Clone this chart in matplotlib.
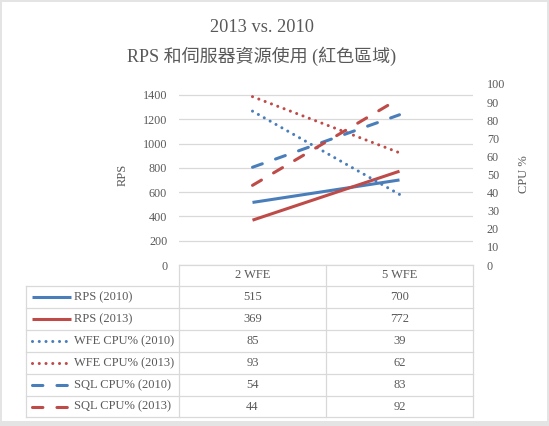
import matplotlib
matplotlib.use("Agg")
import matplotlib.pyplot as plt
from matplotlib.patches import Rectangle
from matplotlib.lines import Line2D

plt.rcParams['font.family'] = ['Liberation Serif', 'Noto Sans CJK TC', 'DejaVu Sans']

# data
categories = ["2 WFE", "5 WFE"]
series_names = ["RPS (2010)", "RPS (2013)", "WFE CPU% (2010)", "WFE CPU% (2013)",
                "SQL CPU% (2010)", "SQL CPU% (2013)"]
rps_2010 = [515, 700]
rps_2013 = [369, 772]
wfe_cpu_2010 = [85, 39]
wfe_cpu_2013 = [93, 62]
sql_cpu_2010 = [54, 83]
sql_cpu_2013 = [44, 92]
rps_ticks = [0, 200, 400, 600, 800, 1000, 1200, 1400]
cpu_ticks = [0, 10, 20, 30, 40, 50, 60, 70, 80, 90, 100]

BLUE = "#4A7EBB"
RED = "#BE4B48"
TXT = "#595959"
GRID = "#D9D9D9"
DOT = (0, (0.01, 2.2))
DASH = (0, (3.4, 4.6))

series = [
    (rps_2010, BLUE, "-", "left"),
    (rps_2013, RED, "-", "left"),
    (wfe_cpu_2010, BLUE, DOT, "right"),
    (wfe_cpu_2013, RED, DOT, "right"),
    (sql_cpu_2010, BLUE, DASH, "right"),
    (sql_cpu_2013, RED, DASH, "right"),
]

W, H = 549, 426
fig = plt.figure(figsize=(W / 100, H / 100), dpi=100)
fig.patch.set_facecolor("#E4E4E4")

# background axes in pixel coords for frame, title and data table
bg = fig.add_axes([0, 0, 1, 1])
bg.set_xlim(0, W)
bg.set_ylim(H, 0)
bg.axis("off")
bg.add_patch(Rectangle((1.5, 1.5), 545.5, 419, facecolor="white", edgecolor="none"))

bg.text(262, 28, "2013 vs. 2010", ha="center", va="center", fontsize=13.2, color=TXT)
bg.text(262, 56.5, "RPS 和伺服器資源使用 (紅色區域)", ha="center", va="center",
        fontsize=13, color=TXT)

# plot area
x0, x1, y_top, y_bot = 179, 473, 84, 265
ax = fig.add_axes([x0 / W, 1 - y_bot / H, (x1 - x0) / W, (y_bot - y_top) / H])
ax.set_facecolor("none")
ax2 = ax.twinx()

xs = list(range(len(categories)))
for vals, color, ls, side in series:
    target = ax if side == "left" else ax2
    target.plot(xs, vals, color=color, lw=2.2, linestyle=ls,
                dash_capstyle="round", solid_capstyle="butt")

ax.set_xlim(-0.5, len(categories) - 0.5)
ax.set_ylim(0, 1490)
ax2.set_ylim(0, 100)
ax.set_yticks(rps_ticks)
ax2.set_yticks(cpu_ticks)
ax.set_xticks([])
for a in (ax, ax2):
    for s in a.spines.values():
        s.set_visible(False)
    a.tick_params(length=0, labelsize=8.7, labelcolor=TXT)
ax.tick_params(axis="y", pad=8.5)
ax2.tick_params(axis="y", pad=10)
ax.yaxis.grid(True, color=GRID, lw=0.9)
ax.set_axisbelow(True)
ax.set_ylabel("RPS", fontsize=9, color=TXT, labelpad=10)
ax2.set_ylabel("CPU %", fontsize=9, color=TXT, rotation=90, labelpad=9)

# data table
col_edges = [26, 179, 326, 473]
row_edges = [265, 286, 308, 330, 352, 374, 396, 417]
lw = 0.9
for y in row_edges:
    xa = col_edges[1] if y == row_edges[0] else col_edges[0]
    bg.add_line(Line2D([xa, col_edges[-1]], [y, y], color=GRID, lw=lw))
for i, x in enumerate(col_edges):
    ya = row_edges[1] if i == 0 else row_edges[0]
    bg.add_line(Line2D([x, x], [ya, row_edges[-1]], color=GRID, lw=lw))

for j, cat in enumerate(categories):
    cx = (col_edges[j + 1] + col_edges[j + 2]) / 2
    bg.text(cx, (row_edges[0] + row_edges[1]) / 2, cat, ha="center", va="center",
            fontsize=9, color=TXT)

for i, (name, (vals, color, ls, side)) in enumerate(zip(series_names, series)):
    cy = (row_edges[i + 1] + row_edges[i + 2]) / 2
    bg.add_line(Line2D([32, 71], [cy, cy], color=color, lw=2.2, linestyle=ls,
                       dash_capstyle="round", solid_capstyle="butt"))
    bg.text(74, cy, name, ha="left", va="center", fontsize=9, color=TXT)
    for j, v in enumerate(vals):
        cx = (col_edges[j + 1] + col_edges[j + 2]) / 2
        bg.text(cx, cy, str(v), ha="center", va="center", fontsize=9, color=TXT)

fig.savefig("out.png", dpi=100, facecolor=fig.get_facecolor())
